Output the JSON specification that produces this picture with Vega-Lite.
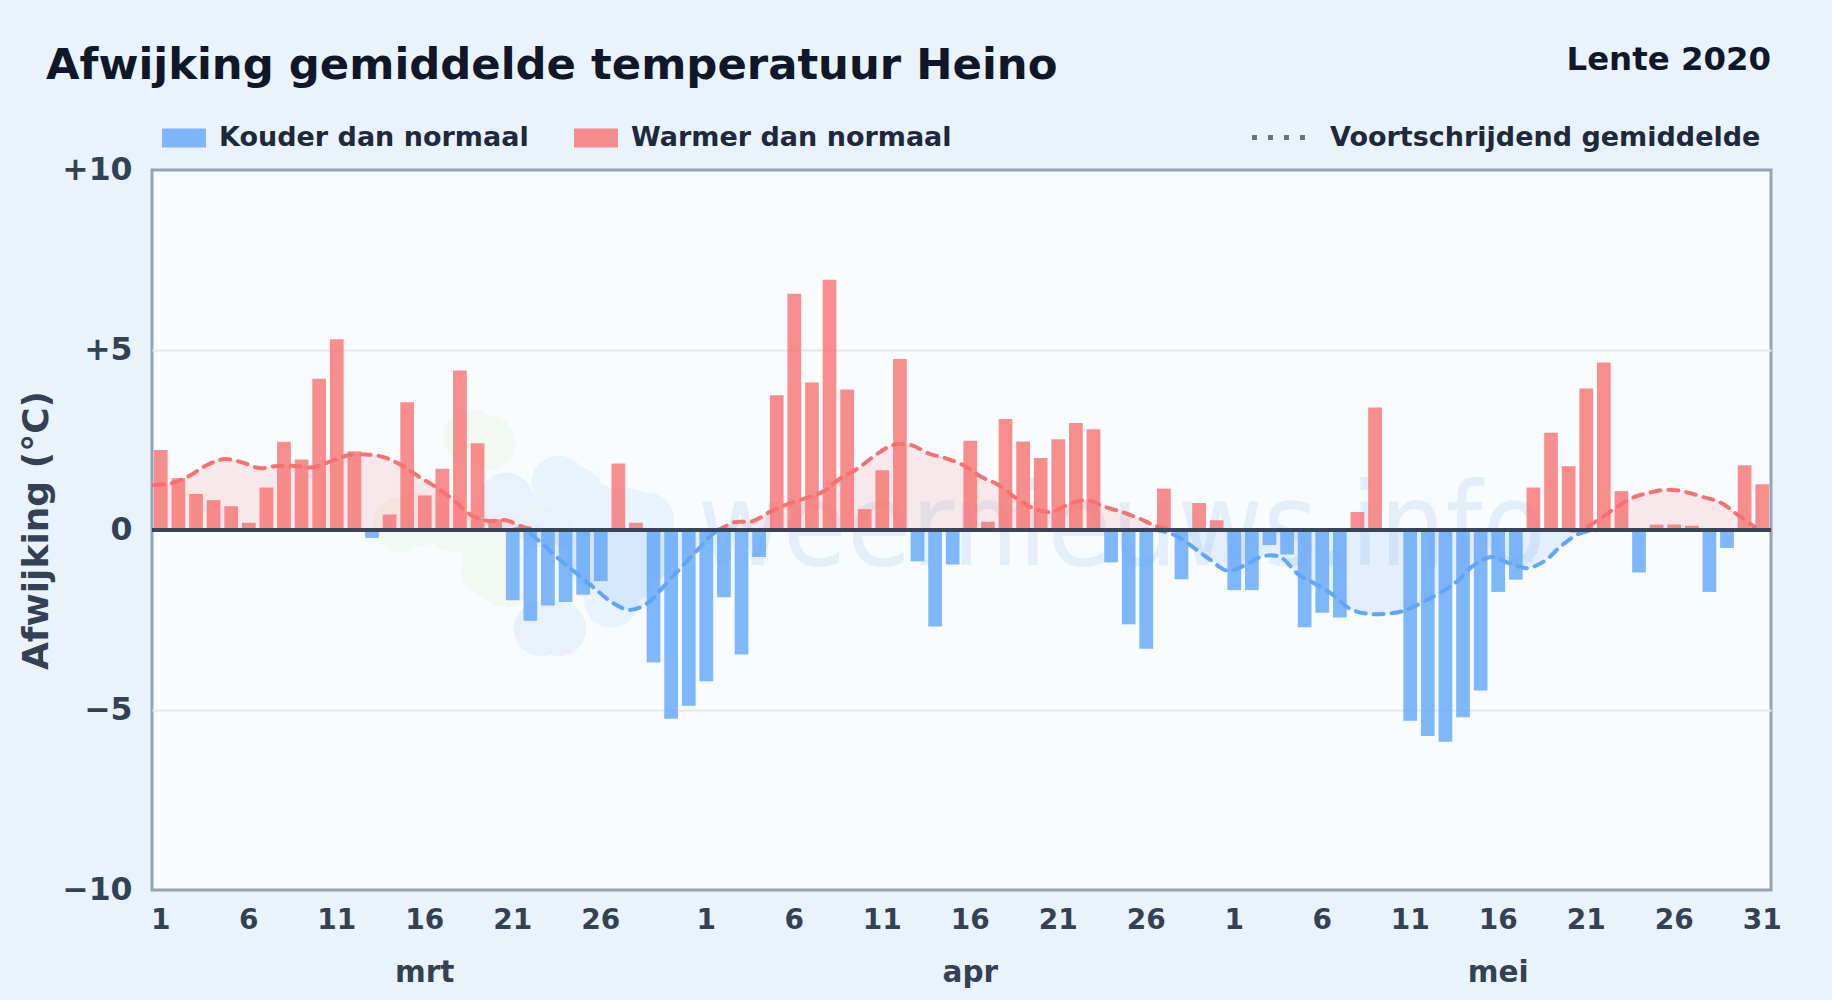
{
"$schema":"https://vega.github.io/schema/vega-lite/v6.json",
"autosize":{"type":"none"},
"padding":{"left":152,"top":170,"right":61,"bottom":110},
"width":1619,"height":720,
"background":"#e9f3fb",
"title":{"text":"Afwijking gemiddelde temperatuur Heino","anchor":"start","frame":"group","dx":-106,"offset":-79,"font":"DejaVu Sans","fontSize":43.35,"fontWeight":"bold","color":"#0f172a","baseline":"alphabetic"},
"config":{"font":"DejaVu Sans","view":{"fill":"#f8fcff","stroke":"#94a3b8","strokeWidth":3}},
"datasets":{
"dagen":[
{"d":"2020-03-01","v":2.22,"t":"Warmer dan normaal","w":1.25,"k":0},
{"d":"2020-03-02","v":1.44,"t":"Warmer dan normaal","w":1.3,"k":0},
{"d":"2020-03-03","v":1.0,"t":"Warmer dan normaal","w":1.5,"k":0},
{"d":"2020-03-04","v":0.83,"t":"Warmer dan normaal","w":1.8,"k":0},
{"d":"2020-03-05","v":0.66,"t":"Warmer dan normaal","w":1.97,"k":0},
{"d":"2020-03-06","v":0.2,"t":"Warmer dan normaal","w":1.88,"k":0},
{"d":"2020-03-07","v":1.18,"t":"Warmer dan normaal","w":1.72,"k":0},
{"d":"2020-03-08","v":2.45,"t":"Warmer dan normaal","w":1.78,"k":0},
{"d":"2020-03-09","v":1.96,"t":"Warmer dan normaal","w":1.78,"k":0},
{"d":"2020-03-10","v":4.2,"t":"Warmer dan normaal","w":1.74,"k":0},
{"d":"2020-03-11","v":5.3,"t":"Warmer dan normaal","w":1.9,"k":0},
{"d":"2020-03-12","v":2.19,"t":"Warmer dan normaal","w":2.07,"k":0},
{"d":"2020-03-13","v":-0.22,"t":"Kouder dan normaal","w":2.1,"k":0},
{"d":"2020-03-14","v":0.43,"t":"Warmer dan normaal","w":2.03,"k":0},
{"d":"2020-03-15","v":3.55,"t":"Warmer dan normaal","w":1.82,"k":0},
{"d":"2020-03-16","v":0.96,"t":"Warmer dan normaal","w":1.5,"k":0},
{"d":"2020-03-17","v":1.7,"t":"Warmer dan normaal","w":1.2,"k":0},
{"d":"2020-03-18","v":4.43,"t":"Warmer dan normaal","w":0.84,"k":0},
{"d":"2020-03-19","v":2.41,"t":"Warmer dan normaal","w":0.42,"k":0},
{"d":"2020-03-20","v":0.3,"t":"Warmer dan normaal","w":0.25,"k":0},
{"d":"2020-03-21","v":-1.95,"t":"Kouder dan normaal","w":0.27,"k":0},
{"d":"2020-03-22","v":-2.52,"t":"Kouder dan normaal","w":0.08,"k":0},
{"d":"2020-03-23","v":-2.1,"t":"Kouder dan normaal","w":0,"k":-0.35},
{"d":"2020-03-24","v":-2.0,"t":"Kouder dan normaal","w":0,"k":-0.8},
{"d":"2020-03-25","v":-1.8,"t":"Kouder dan normaal","w":0,"k":-1.2},
{"d":"2020-03-26","v":-1.42,"t":"Kouder dan normaal","w":0,"k":-1.6},
{"d":"2020-03-27","v":1.85,"t":"Warmer dan normaal","w":0,"k":-2.0},
{"d":"2020-03-28","v":0.2,"t":"Warmer dan normaal","w":0,"k":-2.22},
{"d":"2020-03-29","v":-3.68,"t":"Kouder dan normaal","w":0,"k":-2.05},
{"d":"2020-03-30","v":-5.24,"t":"Kouder dan normaal","w":0,"k":-1.55},
{"d":"2020-03-31","v":-4.88,"t":"Kouder dan normaal","w":0,"k":-1.02},
{"d":"2020-04-01","v":-4.2,"t":"Kouder dan normaal","w":0,"k":-0.5},
{"d":"2020-04-02","v":-1.87,"t":"Kouder dan normaal","w":0,"k":-0.03},
{"d":"2020-04-03","v":-3.46,"t":"Kouder dan normaal","w":0.22,"k":0},
{"d":"2020-04-04","v":-0.75,"t":"Kouder dan normaal","w":0.24,"k":0},
{"d":"2020-04-05","v":3.74,"t":"Warmer dan normaal","w":0.5,"k":0},
{"d":"2020-04-06","v":6.56,"t":"Warmer dan normaal","w":0.72,"k":0},
{"d":"2020-04-07","v":4.1,"t":"Warmer dan normaal","w":0.88,"k":0},
{"d":"2020-04-08","v":6.95,"t":"Warmer dan normaal","w":1.06,"k":0},
{"d":"2020-04-09","v":3.9,"t":"Warmer dan normaal","w":1.43,"k":0},
{"d":"2020-04-10","v":0.58,"t":"Warmer dan normaal","w":1.71,"k":0},
{"d":"2020-04-11","v":1.66,"t":"Warmer dan normaal","w":2.08,"k":0},
{"d":"2020-04-12","v":4.75,"t":"Warmer dan normaal","w":2.36,"k":0},
{"d":"2020-04-13","v":-0.87,"t":"Kouder dan normaal","w":2.36,"k":0},
{"d":"2020-04-14","v":-2.68,"t":"Kouder dan normaal","w":2.13,"k":0},
{"d":"2020-04-15","v":-0.96,"t":"Kouder dan normaal","w":1.99,"k":0},
{"d":"2020-04-16","v":2.48,"t":"Warmer dan normaal","w":1.8,"k":0},
{"d":"2020-04-17","v":0.23,"t":"Warmer dan normaal","w":1.48,"k":0},
{"d":"2020-04-18","v":3.08,"t":"Warmer dan normaal","w":1.25,"k":0},
{"d":"2020-04-19","v":2.46,"t":"Warmer dan normaal","w":0.88,"k":0},
{"d":"2020-04-20","v":2.0,"t":"Warmer dan normaal","w":0.6,"k":0},
{"d":"2020-04-21","v":2.52,"t":"Warmer dan normaal","w":0.5,"k":0},
{"d":"2020-04-22","v":2.97,"t":"Warmer dan normaal","w":0.72,"k":0},
{"d":"2020-04-23","v":2.8,"t":"Warmer dan normaal","w":0.83,"k":0},
{"d":"2020-04-24","v":-0.9,"t":"Kouder dan normaal","w":0.65,"k":0},
{"d":"2020-04-25","v":-2.62,"t":"Kouder dan normaal","w":0.5,"k":0},
{"d":"2020-04-26","v":-3.3,"t":"Kouder dan normaal","w":0.32,"k":0},
{"d":"2020-04-27","v":1.15,"t":"Warmer dan normaal","w":0.1,"k":0},
{"d":"2020-04-28","v":-1.37,"t":"Kouder dan normaal","w":0,"k":-0.14},
{"d":"2020-04-29","v":0.75,"t":"Warmer dan normaal","w":0,"k":-0.46},
{"d":"2020-04-30","v":0.27,"t":"Warmer dan normaal","w":0,"k":-0.82},
{"d":"2020-05-01","v":-1.67,"t":"Kouder dan normaal","w":0,"k":-1.13},
{"d":"2020-05-02","v":-1.67,"t":"Kouder dan normaal","w":0,"k":-0.98},
{"d":"2020-05-03","v":-0.42,"t":"Kouder dan normaal","w":0,"k":-0.73},
{"d":"2020-05-04","v":-0.68,"t":"Kouder dan normaal","w":0,"k":-0.75},
{"d":"2020-05-05","v":-2.7,"t":"Kouder dan normaal","w":0,"k":-1.22},
{"d":"2020-05-06","v":-2.3,"t":"Kouder dan normaal","w":0,"k":-1.5},
{"d":"2020-05-07","v":-2.43,"t":"Kouder dan normaal","w":0,"k":-1.8},
{"d":"2020-05-08","v":0.5,"t":"Warmer dan normaal","w":0,"k":-2.2},
{"d":"2020-05-09","v":3.4,"t":"Warmer dan normaal","w":0,"k":-2.33},
{"d":"2020-05-10","v":-0.05,"t":"Kouder dan normaal","w":0,"k":-2.33},
{"d":"2020-05-11","v":-5.3,"t":"Kouder dan normaal","w":0,"k":-2.25},
{"d":"2020-05-12","v":-5.72,"t":"Kouder dan normaal","w":0,"k":-2.03},
{"d":"2020-05-13","v":-5.88,"t":"Kouder dan normaal","w":0,"k":-1.77},
{"d":"2020-05-14","v":-5.2,"t":"Kouder dan normaal","w":0,"k":-1.45},
{"d":"2020-05-15","v":-4.46,"t":"Kouder dan normaal","w":0,"k":-0.98},
{"d":"2020-05-16","v":-1.72,"t":"Kouder dan normaal","w":0,"k":-0.75},
{"d":"2020-05-17","v":-1.38,"t":"Kouder dan normaal","w":0,"k":-0.92},
{"d":"2020-05-18","v":1.18,"t":"Warmer dan normaal","w":0,"k":-1.06},
{"d":"2020-05-19","v":2.7,"t":"Warmer dan normaal","w":0,"k":-0.87},
{"d":"2020-05-20","v":1.77,"t":"Warmer dan normaal","w":0,"k":-0.43},
{"d":"2020-05-21","v":3.93,"t":"Warmer dan normaal","w":0,"k":-0.1},
{"d":"2020-05-22","v":4.65,"t":"Warmer dan normaal","w":0.25,"k":0},
{"d":"2020-05-23","v":1.08,"t":"Warmer dan normaal","w":0.6,"k":0},
{"d":"2020-05-24","v":-1.18,"t":"Kouder dan normaal","w":0.89,"k":0},
{"d":"2020-05-25","v":0.15,"t":"Warmer dan normaal","w":1.04,"k":0},
{"d":"2020-05-26","v":0.15,"t":"Warmer dan normaal","w":1.12,"k":0},
{"d":"2020-05-27","v":0.12,"t":"Warmer dan normaal","w":1.06,"k":0},
{"d":"2020-05-28","v":-1.72,"t":"Kouder dan normaal","w":0.92,"k":0},
{"d":"2020-05-29","v":-0.5,"t":"Kouder dan normaal","w":0.77,"k":0},
{"d":"2020-05-30","v":1.8,"t":"Warmer dan normaal","w":0.42,"k":0},
{"d":"2020-05-31","v":1.27,"t":"Warmer dan normaal","w":0.07,"k":0}
],
"groen":[{"d":"2020-03-20","v":2.42},{"d":"2020-03-19","v":2.6},{"d":"2020-03-16","v":0.28},{"d":"2020-03-15","v":0.15},{"d":"2020-03-18","v":0.14},{"d":"2020-03-20","v":-0.4},{"d":"2020-03-20","v":-1.1},{"d":"2020-03-21","v":-1.4}],
"grijs":[{"d":"2020-03-21","v":0.83},{"d":"2020-03-23","v":0.28},{"d":"2020-03-25","v":0.14},{"d":"2020-03-26","v":-0.14},{"d":"2020-03-27","v":-0.4},{"d":"2020-03-23","v":-2.75},{"d":"2020-03-24","v":-2.75}],
"lichtblauw":[{"d":"2020-03-24","v":1.3},{"d":"2020-03-25","v":1.0},{"d":"2020-03-26","v":0.55},{"d":"2020-03-28","v":0.4},{"d":"2020-03-29","v":0.28},{"d":"2020-03-27","v":-1.95},{"d":"2020-03-28","v":-1.25},{"d":"2020-03-29","v":-0.7},{"d":"2020-03-26","v":-0.85}],
"tekst":[{"d":"2020-04-25","v":-0.97,"tekst":"weernieuws.info"}],
"seizoen":[{"d":"2020-05-31","v":12.79,"tekst":"Lente 2020"}],
"maanden":[{"d":"2020-03-16","v":0,"maand":"mrt"},{"d":"2020-04-16","v":0,"maand":"apr"},{"d":"2020-05-16","v":0,"maand":"mei"}],
"reeks":[{"d":"2020-03-01","v":0,"r":"Voortschrijdend gemiddelde"},{"d":"2020-03-02","v":0,"r":"Voortschrijdend gemiddelde"}]
},
"layer":[
{"data":{"name":"groen"},"mark":{"type":"point","filled":true,"opacity":1,"color":"#f2f9f3","size":3000},
 "encoding":{"x":{"field":"d","type":"ordinal","bandPosition":0,"axis":null},
  "y":{"field":"v","type":"quantitative","scale":{"domain":[-10,10],"nice":false},
   "axis":{"title":"Afwijking (°C)","titleFontSize":36,"titleFontWeight":"bold","titleColor":"#334155","titlePadding":6,"domain":false,"ticks":false,"values":[-10,-5,0,5,10],"grid":true,"gridColor":"#e2e8f0","gridWidth":2,"gridOpacity":{"condition":{"test":"abs(datum.value) == 5","value":1},"value":0},"labelFontSize":31.5,"labelFontWeight":"bold","labelColor":"#334155","labelPadding":20,
    "labelExpr":"datum.value > 0 ? '+' + datum.value : datum.value < 0 ? '−' + abs(datum.value) : '0'"}}}},
{"data":{"name":"grijs"},"mark":{"type":"point","filled":true,"opacity":1,"color":"#e8f1f9","size":3000},
 "encoding":{"x":{"field":"d","type":"ordinal","bandPosition":0,"axis":null},"y":{"field":"v","type":"quantitative"}}},
{"data":{"name":"lichtblauw"},"mark":{"type":"point","filled":true,"opacity":1,"color":"#e7f3fe","size":3000},
 "encoding":{"x":{"field":"d","type":"ordinal","bandPosition":0,"axis":null},"y":{"field":"v","type":"quantitative"}}},
{"data":{"name":"tekst"},"mark":{"type":"text","font":"DejaVu Sans Condensed","fontSize":116,"color":"#1d6fb8","opacity":0.09,"baseline":"alphabetic","align":"center"},
 "encoding":{"x":{"field":"d","type":"ordinal","bandPosition":0,"axis":null},"y":{"field":"v","type":"quantitative"},"text":{"field":"tekst"}}},
{"data":{"name":"dagen"},"mark":{"type":"area","color":"#f87171","opacity":0.14,"interpolate":"catmull-rom"},
 "encoding":{"x":{"field":"d","type":"ordinal","bandPosition":0,"axis":null},"y":{"field":"w","type":"quantitative"},"y2":{"datum":0}}},
{"data":{"name":"dagen"},"mark":{"type":"area","color":"#60a5fa","opacity":0.14,"interpolate":"catmull-rom"},
 "encoding":{"x":{"field":"d","type":"ordinal","bandPosition":0,"axis":null},"y":{"field":"k","type":"quantitative"},"y2":{"datum":0}}},
{"data":{"name":"dagen"},"mark":{"type":"line","color":"#f87171","strokeWidth":4,"strokeDash":[10,8],"strokeCap":"round","interpolate":"catmull-rom"},
 "encoding":{"x":{"field":"d","type":"ordinal","bandPosition":0,"axis":null},"y":{"field":"w","type":"quantitative"}}},
{"data":{"name":"dagen"},"mark":{"type":"line","color":"#60a5fa","strokeWidth":4,"strokeDash":[10,8],"strokeCap":"round","interpolate":"catmull-rom"},
 "encoding":{"x":{"field":"d","type":"ordinal","bandPosition":0,"axis":null},"y":{"field":"k","type":"quantitative"}}},
{"data":{"name":"dagen"},"mark":{"type":"bar","opacity":0.8},
 "encoding":{
  "x":{"field":"d","type":"ordinal","scale":{"type":"band","paddingInner":0.22,"paddingOuter":0.11},
   "axis":{"title":null,"orient":"bottom","domain":false,"ticks":false,"grid":false,"labelAngle":0,"labelOverlap":false,"labelBound":false,"labelFlush":false,"labelFontSize":28,"labelFontWeight":"bold","labelColor":"#334155","labelPadding":16,
    "values":["2020-03-01","2020-03-06","2020-03-11","2020-03-16","2020-03-21","2020-03-26","2020-04-01","2020-04-06","2020-04-11","2020-04-16","2020-04-21","2020-04-26","2020-05-01","2020-05-06","2020-05-11","2020-05-16","2020-05-21","2020-05-26","2020-05-31"],
    "labelExpr":"'' + parseInt(slice(datum.value,8))"}},
  "y":{"field":"v","type":"quantitative"},
  "fill":{"field":"t","type":"nominal","scale":{"domain":["Kouder dan normaal","Warmer dan normaal"],"range":["#60a5fa","#f87171"]},
   "legend":{"orient":"none","legendX":10,"legendY":-54,"direction":"horizontal","columns":2,"title":null,"columnPadding":45,"symbolType":"M-1,-0.43H1V0.43H-1Z","symbolSize":1936,"symbolOpacity":0.8,"symbolStrokeWidth":0,"labelFontSize":27,"labelFontWeight":"bold","labelColor":"#1e293b","labelOffset":13,"labelLimit":500}}
 }},
{"data":{"name":"reeks"},"mark":{"type":"line","strokeWidth":0},
 "encoding":{"x":{"field":"d","type":"ordinal","axis":null},"y":{"field":"v","type":"quantitative"},
  "strokeDash":{"field":"r","type":"nominal","scale":{"domain":["Voortschrijdend gemiddelde"],"range":[[5,11]]},
   "legend":{"orient":"none","legendX":1097,"legendY":-64,"title":null,"symbolType":"stroke","symbolSize":3250,"symbolStrokeWidth":5,"symbolStrokeColor":"#64748b","symbolOpacity":1,"labelFontSize":27,"labelFontWeight":"bold","labelColor":"#1e293b","labelOffset":18,"labelLimit":600}}}},
{"data":{"name":"maanden"},"mark":{"type":"point","opacity":0},
 "encoding":{"x":{"field":"d","type":"ordinal",
   "axis":{"title":null,"orient":"bottom","domain":false,"ticks":false,"grid":false,"labelAngle":0,"labelFontSize":29.5,"labelFontWeight":"bold","labelColor":"#334155","labelPadding":68,"labelOverlap":false,"labelBound":false,"values":["2020-03-16","2020-04-16","2020-05-16"],
    "labelExpr":"datum.value == '2020-03-16' ? 'mrt' : datum.value == '2020-04-16' ? 'apr' : 'mei'"}},
  "y":{"field":"v","type":"quantitative"}}},
{"data":{"name":"dagen"},"mark":{"type":"rule","color":"#374559","strokeWidth":4},
 "encoding":{"y":{"datum":0,"type":"quantitative"}}},
{"data":{"name":"seizoen"},"mark":{"type":"text","fontSize":32.4,"fontWeight":"bold","color":"#0f172a","align":"right","baseline":"alphabetic","dx":2},
 "encoding":{"x":{"field":"d","type":"ordinal","bandPosition":1,"axis":null},"y":{"field":"v","type":"quantitative"},"text":{"field":"tekst"}}}
],
"resolve":{"axis":{"x":"independent"}}
}
